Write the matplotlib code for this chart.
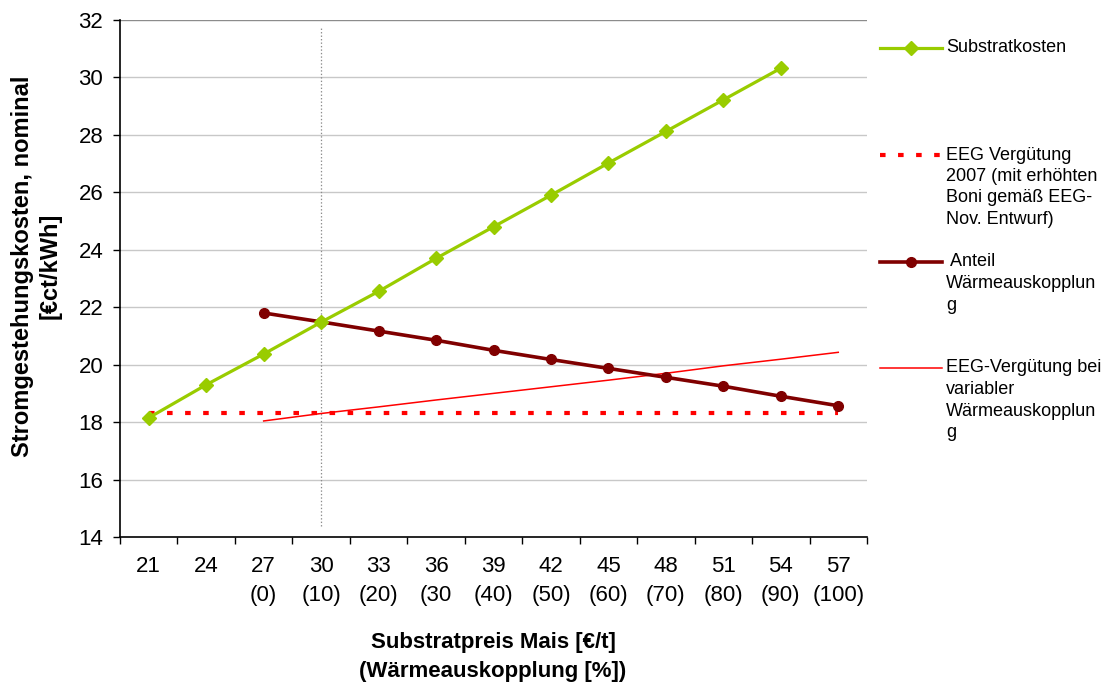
import matplotlib
matplotlib.use("Agg")
import matplotlib.pyplot as plt

plt.rcParams["font.family"] = ["Liberation Sans", "DejaVu Sans"]
plt.rcParams["lines.scale_dashes"] = False

# Substrate price for maize [€/t] and heat utilisation share [%]
preise = [21, 24, 27, 30, 33, 36, 39, 42, 45, 48, 51, 54, 57]
waerme = ["", "", "(0)", "(10)", "(20)", "(30", "(40)", "(50)", "(60)", "(70)", "(80)", "(90)", "(100)"]

# Electricity generation costs [€ct/kWh]
substratkosten = [18.15, 19.3, 20.37, 21.48, 22.55, 23.7, 24.8, 25.9, 27.02, 28.12, 29.22, 30.32]
eeg_2007 = [18.3] * 13
anteil_waerme = [21.8, 21.49, 21.17, 20.85, 20.5, 20.18, 19.87, 19.56, 19.25, 18.9, 18.57]
eeg_variabel = [18.04, 18.3, 18.53, 18.77, 19.0, 19.23, 19.46, 19.7, 19.96, 20.19, 20.43]

legend_labels = [
    ["Substratkosten"],
    ["EEG Vergütung", "2007 (mit erhöhten", "Boni gemäß EEG-", "Nov. Entwurf)"],
    [" Anteil", "Wärmeauskopplun", "g"],
    ["EEG-Vergütung bei", "variabler", "Wärmeauskopplun", "g"],
]

GREEN = "#99CC00"
DARKRED = "#800000"
RED = "#FF0000"

W, H = 1106, 683
fig = plt.figure(figsize=(W / 100, H / 100), dpi=100)
ax = fig.add_axes([120 / W, 1 - 537 / H, 747 / W, 517 / H])

x_all = list(range(len(preise)))
x_sub = x_all[:len(substratkosten)]
x_waerme = x_all[2:2 + len(anteil_waerme)]

ax.set_xlim(-0.5, len(preise) - 0.5)
ax.set_ylim(14, 32)

# horizontal gridlines
for yv in range(16, 33, 2):
    ax.axhline(yv, color="#C8C8C8" if yv < 32 else "#8C8C8C", lw=1.0, zorder=0)

# vertical reference line at 30 €/t
ax.vlines(preise.index(30), 14.4, 31.8, colors="#8C8C8C", linestyles=(0, (1, 1.5)), lw=0.9, zorder=1)

ax.plot(x_all, eeg_2007, color=RED, lw=3.0, dashes=(4.0, 9.0), solid_capstyle="butt",
        dash_capstyle="butt", zorder=2)
ax.plot(x_waerme, eeg_variabel, color=RED, lw=1.1, zorder=3)
ax.plot(x_waerme, anteil_waerme, color=DARKRED, lw=2.6, marker="o", ms=7, zorder=4)
ax.plot(x_sub, substratkosten, color=GREEN, lw=2.3, marker="D", ms=7.2, zorder=5)

# ticks
ax.set_yticks(range(14, 33, 2))
ax.tick_params(axis="y", direction="out", length=5, width=1, labelsize=16, pad=7)
ax.set_xticks([i - 0.5 for i in range(len(preise) + 1)])
ax.set_xticklabels([])
ax.set_xticks(x_all, minor=True)
ax.set_xticklabels([f"{p}\n{w}" for p, w in zip(preise, waerme)], minor=True,
                   va="top", linespacing=1.45)
ax.tick_params(axis="x", which="major", direction="out", length=5, width=1)
ax.tick_params(axis="x", which="minor", length=0, labelsize=16, pad=14)

for s in ["top", "right"]:
    ax.spines[s].set_visible(False)
for s in ["left", "bottom"]:
    ax.spines[s].set_color("black")
    ax.spines[s].set_linewidth(1.2)

fig.text(36 / W, 1 - 266 / H, "Stromgestehungskosten, nominal\n[€ct/kWh]",
         rotation=90, ha="center", va="center", multialignment="center",
         fontsize=17, fontweight="bold", linespacing=1.25)
fig.text(493 / W, 1 - 657 / H, "Substratpreis Mais [€/t]\n(Wärmeauskopplung [%])",
         ha="center", va="center", multialignment="center",
         fontsize=16, fontweight="bold", linespacing=1.5)

# legend drawn in pixel coordinates
lax = fig.add_axes([0, 0, 1, 1], zorder=10)
lax.set_xlim(0, W)
lax.set_ylim(H, 0)
lax.axis("off")

entry_y = [48, 155, 262, 368]
line_step = 21.5
lx0, lx1, tx = 880, 942, 946
lax.plot([lx0, lx1], [entry_y[0]] * 2, color=GREEN, lw=2.3)
lax.plot([(lx0 + lx1) / 2], [entry_y[0]], color=GREEN, marker="D", ms=7.2)
lax.plot([lx0, lx1], [entry_y[1]] * 2, color=RED, lw=3.0, dashes=(4.0, 9.0),
         dash_capstyle="butt")
lax.plot([lx0, lx1], [entry_y[2]] * 2, color=DARKRED, lw=2.6)
lax.plot([(lx0 + lx1) / 2], [entry_y[2]], color=DARKRED, marker="o", ms=7)
lax.plot([lx0, lx1], [entry_y[3]] * 2, color=RED, lw=1.1)

for y0, lines in zip(entry_y, legend_labels):
    for k, txt in enumerate(lines):
        lax.text(tx, y0 + k * line_step, txt, ha="left", va="center", fontsize=13)

fig.savefig("out.png", dpi=100)
